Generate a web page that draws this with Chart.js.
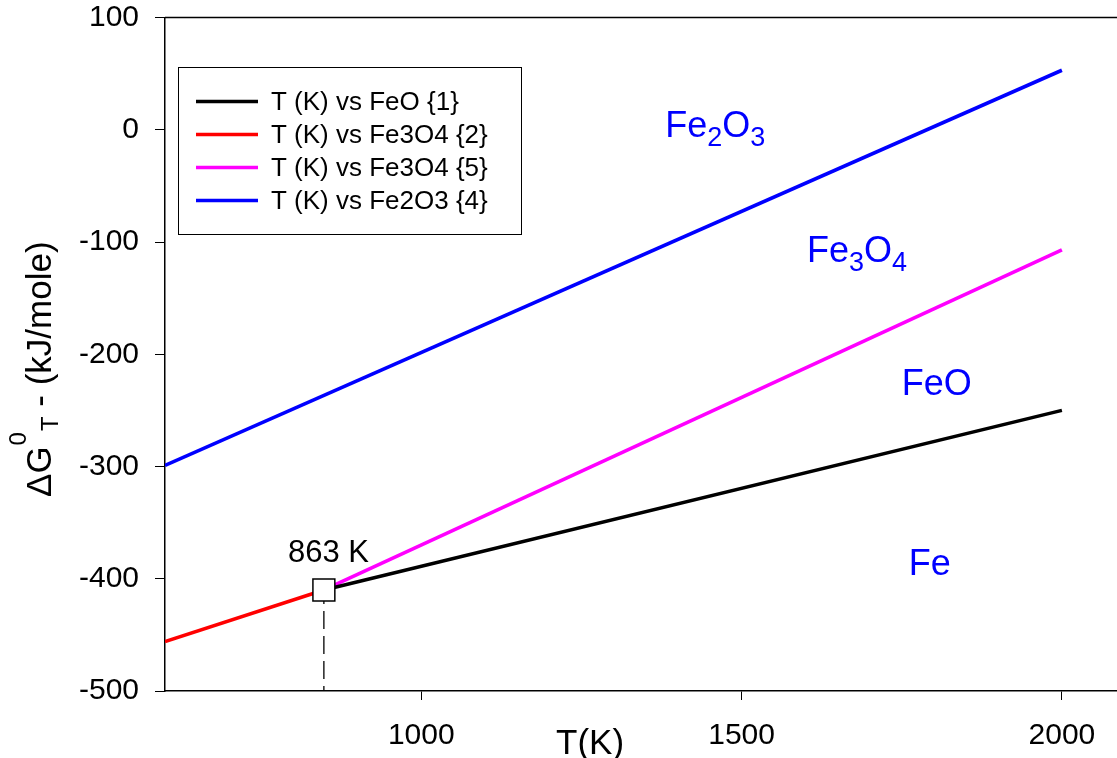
<!DOCTYPE html>
<html><head><meta charset="utf-8">
<script src="https://cdn.jsdelivr.net/npm/chart.js@4.4.0/dist/chart.umd.min.js"></script>
<style>
html,body{margin:0;padding:0;background:#fff;overflow:hidden;}
#wrap{width:1117px;height:758px;position:relative;}
</style></head><body>
<div id="wrap"><canvas id="c" width="1117" height="758"></canvas></div>
<script>
// ---- data ----
const xTicks = [1000, 1500, 2000];
const yTicks = [100, 0, -100, -200, -300, -400, -500];
const seriesLabels = ['T (K) vs FeO {1}', 'T (K) vs Fe3O4 {2}', 'T (K) vs Fe3O4 {5}', 'T (K) vs Fe2O3 {4}'];
const feoT = [848, 2000];
const feoG = [-410, -250];
const fe3o4aT = [600, 848];
const fe3o4aG = [-456, -410];
const fe3o4bT = [848, 2000];
const fe3o4bG = [-410, -107];
const fe2o3T = [600, 2000];
const fe2o3G = [-299, 53];
const transT = [848];
const transG = [-410];
const transLabel = '863 K';
// phase region labels: [text, isSubscript] runs
const phaseNames = [[['Fe',0],['2',1],['O',0],['3',1]], [['Fe',0],['3',1],['O',0],['4',1]], [['FeO',0]], [['Fe',0]]];
const phaseT = [1381, 1602, 1750, 1761];
const phaseG = [-6.5, -118, -236, -397];
const transLabelT = [792];
const transLabelG = [-385];

// ---- styles ----
const FONT = '"Liberation Sans", Arial, sans-serif';
const colors = ['#000000', '#ff0000', '#ff00ff', '#0000ff'];
const pts = (xs, ys) => xs.map((v, i) => ({x: v, y: ys[i]}));

const lineDs = (i, data) => ({
  label: seriesLabels[i], data, borderColor: colors[i], backgroundColor: colors[i],
  borderWidth: 3.6, pointRadius: 0, showLine: true, fill: false, order: 5
});

const datasets = [
  lineDs(0, pts(feoT, feoG)),
  lineDs(1, pts(fe3o4aT, fe3o4aG)),
  lineDs(2, pts(fe3o4bT, fe3o4bG)),
  lineDs(3, pts(fe2o3T, fe2o3G)),
  { label: 'drop', data: [{x: transT[0], y: transG[0]}, {x: transT[0], y: yTicks[yTicks.length-1]}],
    borderColor: '#000', borderWidth: 1.3, borderDash: [18, 7], borderDashOffset: 4, pointRadius: 0, showLine: true, order: 6 },
  { label: 'marker', data: pts(transT, transG), showLine: false, pointStyle: 'rect',
    pointRadius: 15.5, pointBackgroundColor: '#fff', pointBorderColor: '#000', pointBorderWidth: 1.5, order: 1 }
];

const zeroPad = s => { s.paddingLeft = 0; s.paddingRight = 0; s.paddingTop = 0; s.paddingBottom = 0; };

const decor = {
  id: 'decor',
  afterDraw(chart) {
    const {ctx, chartArea: a, scales: {x, y}} = chart;
    ctx.save();
    // top border
    ctx.strokeStyle = '#000'; ctx.lineWidth = 1.5;
    ctx.beginPath(); ctx.moveTo(a.left, a.top); ctx.lineTo(a.right, a.top); ctx.stroke();

    // legend
    const lx = 178.5, ly = 67.5, lw = 343, lh = 167;
    ctx.fillStyle = '#fff'; ctx.fillRect(lx, ly, lw, lh);
    ctx.lineWidth = 1; ctx.strokeStyle = '#000'; ctx.strokeRect(lx, ly, lw, lh);
    ctx.font = '26px ' + FONT; ctx.textBaseline = 'middle'; ctx.textAlign = 'left';
    const rows = [101.5, 134.5, 167.5, 200.5];
    for (let i = 0; i < 4; i++) {
      ctx.strokeStyle = colors[i]; ctx.lineWidth = 3.6;
      ctx.beginPath(); ctx.moveTo(196, rows[i]); ctx.lineTo(258, rows[i]); ctx.stroke();
      ctx.fillStyle = '#000'; ctx.fillText(seriesLabels[i], 271, rows[i] + 1);
    }

    // phase labels
    ctx.textBaseline = 'alphabetic'; ctx.fillStyle = '#0000ff';
    for (let i = 0; i < phaseNames.length; i++) {
      let px = x.getPixelForValue(phaseT[i]);
      const py = y.getPixelForValue(phaseG[i]);
      for (const [txt, sub] of phaseNames[i]) {
        ctx.font = (sub ? '27px ' : '36px ') + FONT;
        ctx.fillText(txt, px, py + (sub ? 9 : 0));
        px += ctx.measureText(txt).width;
      }
    }
    // transition label
    ctx.fillStyle = '#000'; ctx.font = '31px ' + FONT;
    ctx.fillText(transLabel, x.getPixelForValue(transLabelT[0]), y.getPixelForValue(transLabelG[0]));

    // x title
    ctx.font = '35px ' + FONT;
    ctx.fillText('T(K)', 556, 754);

    // y title (rotated)
    ctx.translate(51, 497);
    ctx.rotate(-Math.PI / 2);
    let tx = 0;
    ctx.font = '35px ' + FONT;
    ctx.fillText('\u0394G', tx, 0); tx += ctx.measureText('\u0394G').width + 1;
    ctx.font = '24px ' + FONT;
    ctx.fillText('0', tx, -25); tx += ctx.measureText('0').width + 1;
    ctx.fillText('T', tx, 7); tx += ctx.measureText('T').width;
    ctx.font = '35px ' + FONT;
    ctx.fillText(' - (kJ/mole)', tx, 0);
    ctx.restore();
  }
};

new Chart(document.getElementById('c'), {
  type: 'scatter',
  data: { datasets },
  options: {
    responsive: false, animation: false, devicePixelRatio: 1,
    layout: { autoPadding: false, padding: { top: 17.5, right: 0, left: 0, bottom: 0 } },
    plugins: { legend: { display: false }, tooltip: { enabled: false } },
    scales: {
      x: {
        type: 'linear', min: 600, max: 2086,
        afterBuildTicks: s => { s.ticks = xTicks.map(v => ({value: v})); },
        afterFit: s => { s.height = 67; zeroPad(s); },
        grid: { display: true, drawOnChartArea: false, drawTicks: true, tickLength: 9, color: '#000', lineWidth: 1 },
        border: { display: true, color: '#000', width: 1.5 },
        ticks: { font: { family: FONT, size: 30 }, color: '#000', padding: 18, maxRotation: 0, autoSkip: false,
                 callback: v => String(v) }
      },
      y: {
        type: 'linear', min: -500, max: 100,
        afterBuildTicks: s => { s.ticks = yTicks.map(v => ({value: v})); },
        afterFit: s => { s.width = 165; zeroPad(s); },
        grid: { display: true, drawOnChartArea: false, drawTicks: true, tickLength: 10, color: '#000', lineWidth: 1 },
        border: { display: true, color: '#000', width: 1.5 },
        ticks: { font: { family: FONT, size: 30 }, color: '#000', padding: 16, autoSkip: false,
                 callback: v => String(v) }
      }
    }
  },
  plugins: [decor]
});
</script>
</body></html>
